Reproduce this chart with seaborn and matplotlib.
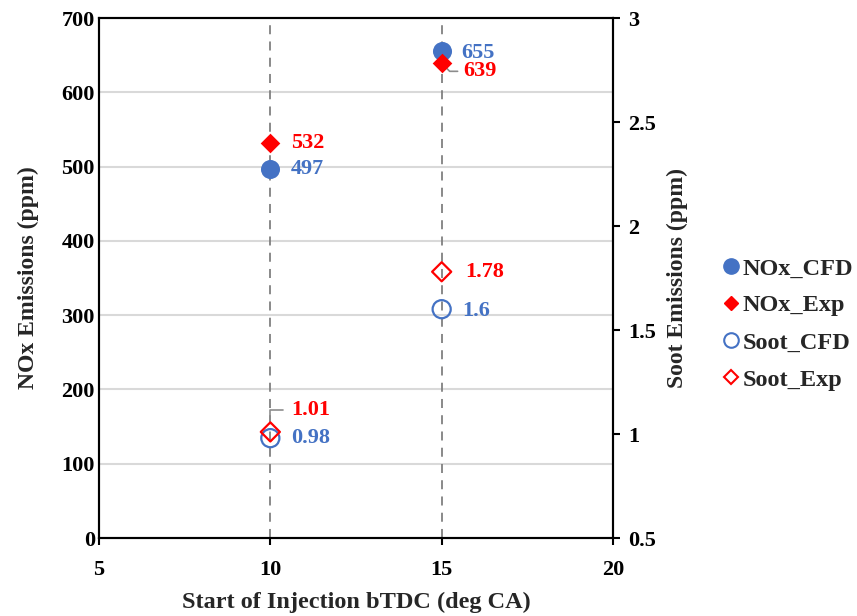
import matplotlib
matplotlib.use("Agg")
import matplotlib.pyplot as plt
from matplotlib.lines import Line2D
from matplotlib.ticker import FuncFormatter
import seaborn as sns
import pandas as pd

# ---- data ----
soi = [10, 15]
nox_cfd = [497, 655]
nox_exp = [532, 639]
soot_cfd = [0.98, 1.6]
soot_exp = [1.01, 1.78]
nox_cfd_labels = ["497", "655"]
nox_exp_labels = ["532", "639"]
soot_cfd_labels = ["0.98", "1.6"]
soot_exp_labels = ["1.01", "1.78"]
left_ticks = [0, 100, 200, 300, 400, 500, 600, 700]
right_ticks = [0.5, 1, 1.5, 2, 2.5, 3]
x_ticks = [5, 10, 15, 20]

BLUE = "#4472C4"
RED = "#FF0000"

sns.set_theme(style="white")
plt.rcParams["font.family"] = ["Liberation Serif", "DejaVu Serif"]
plt.rcParams["font.weight"] = "bold"

fig = plt.figure(figsize=(8.57, 6.16), dpi=100)
ax = fig.add_axes([99 / 857, 1 - 538 / 616, (613 - 99) / 857, (538 - 18) / 616])
ax2 = ax.twinx()

df_nox = pd.DataFrame({"soi": soi, "cfd": nox_cfd, "exp": nox_exp})
df_soot = pd.DataFrame({"soi": soi, "cfd": soot_cfd, "exp": soot_exp})

ax.set_xlim(5, 20)
ax.set_ylim(0, 700)
ax2.set_ylim(0.5, 3)
ax.set_xticks(x_ticks)
ax.set_yticks(left_ticks)
ax2.set_yticks(right_ticks)
ax2.yaxis.set_major_formatter(FuncFormatter(lambda v, p: f"{v:g}"))

# grid lines
for t in left_ticks[1:-1]:
    ax.axhline(t, color="#D9D9D9", lw=1.5, zorder=0)
for t in [10, 15]:
    ax.axvline(t, color="#808080", lw=1.3, ls=(0, (5, 4)), zorder=0.5)

sns.scatterplot(data=df_nox, x="soi", y="cfd", ax=ax, marker="o", s=188,
                color=BLUE, edgecolor=BLUE, linewidth=0, zorder=3, legend=False)
sns.scatterplot(data=df_nox, x="soi", y="exp", ax=ax, marker="D", s=100,
                color=RED, edgecolor=RED, linewidth=0, zorder=4, legend=False)
sns.scatterplot(data=df_soot, x="soi", y="cfd", ax=ax2, marker="o", s=170,
                facecolor="none", edgecolor=BLUE, linewidth=1.6, zorder=3, legend=False)
sns.scatterplot(data=df_soot, x="soi", y="exp", ax=ax2, marker="D", s=95,
                facecolor="none", edgecolor=RED, linewidth=1.6, zorder=4, legend=False)

fs = 16
# data labels
ax.annotate(nox_cfd_labels[0], (soi[0], nox_cfd[0]), xytext=(20, 0), textcoords="offset pixels",
            color=BLUE, fontsize=fs, fontweight="bold", va="center", ha="left")
ax.annotate(nox_cfd_labels[1], (soi[1], nox_cfd[1]), xytext=(20, -2), textcoords="offset pixels",
            color=BLUE, fontsize=fs, fontweight="bold", va="center", ha="left")
ax.annotate(nox_exp_labels[0], (soi[0], nox_exp[0]), xytext=(21, 0), textcoords="offset pixels",
            color=RED, fontsize=fs, fontweight="bold", va="center", ha="left")
ax.annotate(nox_exp_labels[1], (soi[1], nox_exp[1]), xytext=(22, -8), textcoords="offset pixels",
            color=RED, fontsize=fs, fontweight="bold", va="center", ha="left",
            arrowprops=dict(arrowstyle="-", color="#8C8C8C", lw=1.2, shrinkA=2, shrinkB=0,
                            relpos=(0, 0.5),
                            connectionstyle="angle,angleA=0,angleB=-45,rad=0"))
ax2.annotate(soot_cfd_labels[0], (soi[0], soot_cfd[0]), xytext=(21, 0), textcoords="offset pixels",
             color=BLUE, fontsize=fs, fontweight="bold", va="center", ha="left")
ax2.annotate(soot_cfd_labels[1], (soi[1], soot_cfd[1]), xytext=(21, -2), textcoords="offset pixels",
             color=BLUE, fontsize=fs, fontweight="bold", va="center", ha="left")
ax2.annotate(soot_exp_labels[1], (soi[1], soot_exp[1]), xytext=(24, 0), textcoords="offset pixels",
             color=RED, fontsize=fs, fontweight="bold", va="center", ha="left")
ax2.annotate(soot_exp_labels[0], (soi[0], soot_exp[0]), xytext=(21, 22), textcoords="offset pixels",
             color=RED, fontsize=fs, fontweight="bold", va="center", ha="left",
             arrowprops=dict(arrowstyle="-", color="#8C8C8C", lw=1.2, shrinkA=4, shrinkB=8,
                             connectionstyle="angle,angleA=0,angleB=90,rad=0"))

# axes styling
for a in (ax, ax2):
    for sp in a.spines.values():
        sp.set_color("black")
        sp.set_linewidth(1.5)
ax.tick_params(axis="y", length=0, pad=3, labelsize=fs, colors="black")
ax.tick_params(axis="x", direction="out", length=5, width=1.5, pad=11, labelsize=fs, colors="black", bottom=True)
ax2.tick_params(axis="y", direction="out", length=5, width=1.5, pad=6, labelsize=fs, colors="black", right=True)
for lab in ax.get_xticklabels() + ax.get_yticklabels() + ax2.get_yticklabels():
    lab.set_fontweight("bold")

lfs = 17
ax.set_xlabel("Start of Injection bTDC (deg CA)", fontsize=17.5, fontweight="bold", labelpad=8)
ax.set_ylabel("NOx Emissions (ppm)", fontsize=lfs, fontweight="bold", labelpad=16)
ax2.set_ylabel("Soot Emissions (ppm)", fontsize=lfs, fontweight="bold", labelpad=8)

handles = [
    Line2D([], [], ls="none", marker="o", ms=11, mfc=BLUE, mec=BLUE, label="NOx_CFD"),
    Line2D([], [], ls="none", marker="D", ms=7.5, mfc=RED, mec=RED, label="NOx_Exp"),
    Line2D([], [], ls="none", marker="o", ms=10.5, mfc="none", mec=BLUE, mew=1.5, label="Soot_CFD"),
    Line2D([], [], ls="none", marker="D", ms=7, mfc="none", mec=RED, mew=1.5, label="Soot_Exp"),
]
fig.legend(handles=handles, loc="center left", bbox_to_anchor=(722 / 857, 1 - 324 / 616),
           frameon=False, handlelength=0.7, handletextpad=0.15, labelspacing=0.62,
           borderpad=0, borderaxespad=0,
           prop={"size": 17.5, "weight": "bold", "family": "Liberation Serif"})

fig.savefig("out.png", dpi=100)
